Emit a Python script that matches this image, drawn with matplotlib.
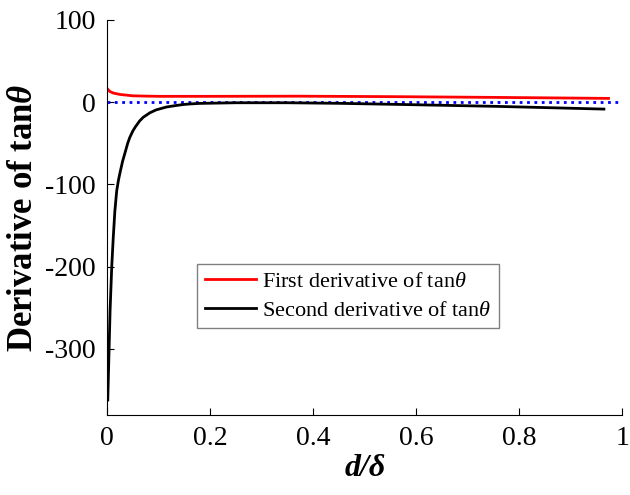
import matplotlib.pyplot as plt

plt.rcParams['font.family'] = 'Liberation Serif'
plt.rcParams['mathtext.fontset'] = 'custom'
plt.rcParams['mathtext.rm'] = 'Liberation Serif'
plt.rcParams['mathtext.it'] = 'Liberation Serif:italic'
plt.rcParams['mathtext.bf'] = 'Liberation Serif:bold'
plt.rcParams['mathtext.bfit'] = 'Liberation Serif:bold:italic'
plt.rcParams['axes.unicode_minus'] = False

# first derivative of tan(theta) vs d/delta
x_first = [0, 0.005, 0.012, 0.025, 0.05, 0.1, 0.2, 0.37, 0.56, 0.756, 0.973]
y_first = [16.5, 13, 11, 9.3, 7.6, 7.0, 7.0, 7.2, 6.6, 5.7, 4.5]

# second derivative of tan(theta) vs d/delta
x_second = [0.0013, 0.0038, 0.0058, 0.009, 0.012, 0.015, 0.0186, 0.022, 0.025,
            0.03, 0.0346, 0.04, 0.044, 0.05, 0.055, 0.063, 0.07, 0.083, 0.095,
            0.115, 0.13, 0.147, 0.16, 0.179, 0.25, 0.35, 0.45, 0.563, 0.756, 0.964]
y_second = [-362, -301, -253, -200, -164, -133, -108, -95, -86,
            -72, -62, -50, -43, -35, -30, -23, -18.5, -13, -9.5,
            -6, -4.5, -3, -2.3, -1.6, -0.8, -0.8, -1.5, -2.8, -5.2, -8.5]

xticks = [0, 0.2, 0.4, 0.6, 0.8, 1]
xticklabels = ['0', '0.2', '0.4', '0.6', '0.8', '1']
yticks = [-300, -200, -100, 0, 100]

fig = plt.figure(figsize=(6.3, 4.95), dpi=100)
ax = fig.add_axes([0.170, 0.162, 0.818, 0.798])

ax.axhline(0, color='blue', ls=':', lw=2)
ax.plot(x_first, y_first, color='red', lw=2, label=r'First derivative of tan$\theta$')
ax.plot(x_second, y_second, color='black', lw=2, label=r'Second derivative of tan$\theta$')

ax.set_xlim(0, 1)
ax.set_ylim(-380, 100)
ax.set_xticks(xticks)
ax.set_xticklabels(xticklabels)
ax.set_yticks(yticks)
ax.tick_params(direction='in', length=5, labelsize=20, pad=8)
ax.spines['top'].set_visible(False)
ax.spines['right'].set_visible(False)

ax.set_xlabel('d/δ', fontsize=23, fontweight='bold', style='italic', labelpad=2)
ax.set_ylabel(r'Derivative of tan$\mathbfit{\theta}$', fontsize=25, fontweight='bold', labelpad=4)

leg = ax.legend(loc='upper left', bbox_to_anchor=(0.175, 0.382), fontsize=16,
                frameon=True, fancybox=False, edgecolor='grey', framealpha=1,
                handlelength=2.3, handletextpad=0.25, borderpad=0.35, labelspacing=0.35,
                borderaxespad=0)
leg.get_frame().set_linewidth(1)

fig.savefig('out.png', dpi=100)
